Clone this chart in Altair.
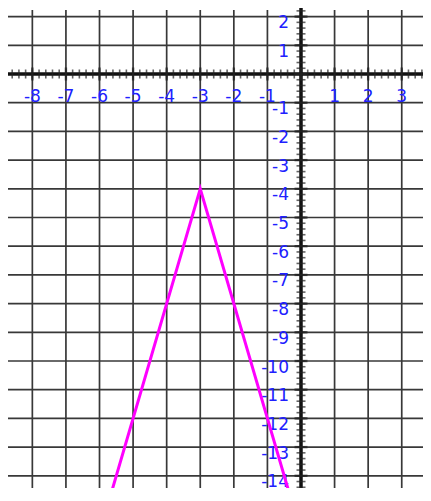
import altair as alt
import pandas as pd

# grid / tick values
x_grid = [-9, -8, -7, -6, -5, -4, -3, -2, -1, 0, 1, 2, 3, 4]
y_grid = [2, 1, 0, -1, -2, -3, -4, -5, -6, -7, -8, -9, -10, -11, -12, -13, -14, -15]
x_labels = [-9, -8, -7, -6, -5, -4, -3, -2, -1, 1, 2, 3, 4]
y_labels = [2, 1, -1, -2, -3, -4, -5, -6, -7, -8, -9, -10, -11, -12, -13, -14, -15]
minor_x = [round(-9 + 0.2 * i, 1) for i in range(66)]
minor_y = [round(-15 + 0.2 * i, 1) for i in range(91)]

# the graph y = -4|x + 3| - 4
curve_x = [-6.5, -3, 0.5]
curve_y = [-18, -4, -18]

W, H = 415, 480
XS = alt.Scale(domain=[-8.725, 3.633], nice=False, zero=False)
YS = alt.Scale(domain=[-14.425, 2.300], nice=False, zero=False)


def X(f):
    return alt.X(f, type="quantitative", scale=XS, axis=None)


def Y(f):
    return alt.Y(f, type="quantitative", scale=YS, axis=None)


gx = pd.DataFrame({"v": x_grid})
gy = pd.DataFrame({"v": y_grid})
lx = pd.DataFrame({"v": x_labels, "z": 0, "t": [str(v) for v in x_labels]})
ly = pd.DataFrame({"v": y_labels, "z": 0, "t": [str(v) for v in y_labels]})
mx = pd.DataFrame({"v": minor_x, "z": 0})
my = pd.DataFrame({"v": minor_y, "z": 0})
mjx = pd.DataFrame({"v": x_grid, "z": 0})
mjy = pd.DataFrame({"v": y_grid, "z": 0})
zero = pd.DataFrame({"v": [0]})
curve = pd.DataFrame({"x": curve_x, "y": curve_y})

GRID = "#383838"
BLUE = "#2020ff"

vgrid = alt.Chart(gx).mark_rule(color=GRID, strokeWidth=1.7).encode(
    x=X("v"), y=alt.value(2), y2=alt.value(H)
)
hgrid = alt.Chart(gy).mark_rule(color=GRID, strokeWidth=1.7).encode(
    y=Y("v"), x=alt.value(0), x2=alt.value(W)
)
xaxis = alt.Chart(zero).mark_rule(color="#111111", strokeWidth=3.5).encode(
    y=Y("v"), x=alt.value(0), x2=alt.value(W)
)
yaxis = alt.Chart(zero).mark_rule(color="#111111", strokeWidth=3.5).encode(
    x=X("v"), y=alt.value(0), y2=alt.value(H)
)
xminor = alt.Chart(mx).mark_tick(orient="vertical", size=9, thickness=1.6, color="#222222").encode(
    x=X("v"), y=Y("z")
)
yminor = alt.Chart(my).mark_tick(orient="horizontal", size=9, thickness=1.6, color="#222222").encode(
    y=Y("v"), x=X("z")
)
xmajor = alt.Chart(mjx).mark_tick(orient="vertical", size=13, thickness=2.4, color="#222222").encode(
    x=X("v"), y=Y("z")
)
ymajor = alt.Chart(mjy).mark_tick(orient="horizontal", size=13, thickness=2.4, color="#222222").encode(
    y=Y("v"), x=X("z")
)
xlab = alt.Chart(lx).mark_text(
    color=BLUE, fontSize=17, font="DejaVu Sans", align="center",
    baseline="alphabetic", dy=28
).encode(x=X("v"), y=Y("z"), text="t:N")
ylab = alt.Chart(ly).mark_text(
    color=BLUE, fontSize=17, font="DejaVu Sans", align="right",
    baseline="alphabetic", dx=-12, dy=11.5
).encode(y=Y("v"), x=X("z"), text="t:N")
line = alt.Chart(curve).mark_line(color="#ff00ff", strokeWidth=3, clip=True).encode(
    x=X("x"), y=Y("y")
)

chart = alt.layer(
    vgrid, hgrid, xaxis, yaxis, xminor, yminor, xmajor, ymajor, xlab, ylab, line
).properties(
    width=W, height=H, padding=0, autosize=alt.AutoSizeParams(type="none"),
    background="white"
).configure_view(stroke=None)

chart.save("out.html", embed_options={"renderer": "svg", "actions": False})
